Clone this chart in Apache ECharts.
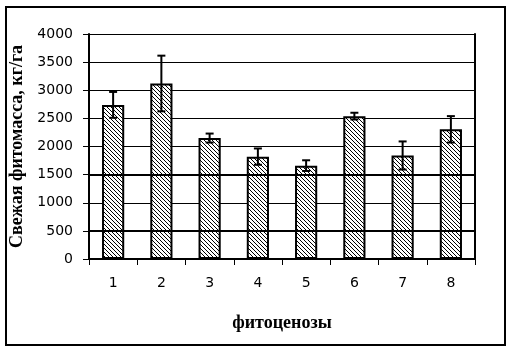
<!DOCTYPE html>
<html><head><meta charset="utf-8">
<script src="https://cdn.jsdelivr.net/npm/echarts@6/dist/echarts.min.js"></script>
<style>html,body{margin:0;padding:0;background:#fff}#c{width:512px;height:351px}</style>
</head><body><div id="c"></div>
<script>
const categories = ['1','2','3','4','5','6','7','8'];
const biomass = [2740, 3120, 2150, 1820, 1660, 2540, 1840, 2305];
const errors = [230, 495, 80, 145, 95, 60, 250, 235];
const yTicks = {min: 0, max: 4000, interval: 500};
const heavyLines = [500, 1500];

const pc = document.createElement('canvas');
pc.width = 4; pc.height = 4;
const ctx = pc.getContext('2d');
ctx.fillStyle = '#fff'; ctx.fillRect(0,0,4,4);
ctx.fillStyle = '#000';
for (let i = 0; i < 4; i++) ctx.fillRect(i, i, 1, 1);

const chart = echarts.init(document.getElementById('c'), null, {renderer: 'canvas'});
chart.setOption({
  animation: false,
  backgroundColor: '#fff',
  grid: {left: 89, right: 37, top: 34, bottom: 92},
  graphic: [{type: 'rect', shape: {x: 6, y: 7, width: 499, height: 338}, style: {fill: 'none', stroke: '#000', lineWidth: 2}}],
  xAxis: {
    type: 'category', data: categories,
    name: 'фитоценозы', nameLocation: 'middle', nameGap: 55,
    nameTextStyle: {fontFamily: 'Liberation Serif', fontWeight: 'bold', fontSize: 18, color: '#000'},
    axisLine: {lineStyle: {color: '#000', width: 2}},
    axisTick: {show: true, inside: false, length: 6, lineStyle: {color: '#000', width: 1}},
    axisLabel: {margin: 17, fontFamily: 'DejaVu Sans', fontSize: 14, color: '#000'}
  },
  yAxis: [{
    type: 'value', min: yTicks.min, max: yTicks.max, interval: yTicks.interval,
    name: 'Свежая фитомасса, кг/га', nameLocation: 'middle', nameGap: 58, nameRotate: 90,
    nameTextStyle: {fontFamily: 'Liberation Serif', fontWeight: 'bold', fontSize: 18, color: '#000'},
    axisLine: {show: true, lineStyle: {color: '#000', width: 2}},
    axisTick: {show: true, length: 6, lineStyle: {color: '#000'}},
    axisLabel: {margin: 16, fontFamily: 'DejaVu Sans', fontSize: 14, color: '#000', formatter: v => String(v)},
    splitLine: {show: true, lineStyle: {color: '#000', width: 1}}
  }, {
    type: 'value', min: yTicks.min, max: yTicks.max, interval: yTicks.interval, position: 'right',
    axisLine: {show: true, lineStyle: {color: '#000', width: 2}},
    axisTick: {show: false}, axisLabel: {show: false}, splitLine: {show: false}
  }],
  series: [{
    type: 'bar', data: biomass, barWidth: '46%',
    itemStyle: {color: {image: pc, repeat: 'repeat'}, borderColor: '#000', borderWidth: 2},
    markLine: {silent: true, symbol: 'none', label: {show: false},
      lineStyle: {color: '#000', width: 2, type: 'solid'},
      data: heavyLines.map(v => ({yAxis: v}))},
    z: 2
  }, {
    type: 'custom', z: 5,
    data: biomass.map((v, i) => [i, v, errors[i]]),
    renderItem: function (params, api) {
      const i = api.value(0), v = api.value(1), e = api.value(2);
      const top = api.coord([i, v + e]);
      const bot = api.coord([i, v - e]);
      const hw = 4;
      return {type: 'group', children: [
        {type: 'line', shape: {x1: top[0], y1: top[1], x2: bot[0], y2: bot[1]}, style: {stroke: '#000', lineWidth: 2}},
        {type: 'line', shape: {x1: top[0]-hw, y1: top[1], x2: top[0]+hw, y2: top[1]}, style: {stroke: '#000', lineWidth: 2}},
        {type: 'line', shape: {x1: bot[0]-hw, y1: bot[1], x2: bot[0]+hw, y2: bot[1]}, style: {stroke: '#000', lineWidth: 2}}
      ]};
    }
  }]
});
</script></body></html>
